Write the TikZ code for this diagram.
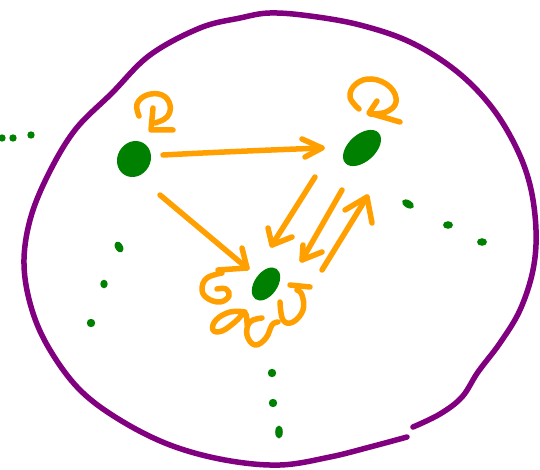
\documentclass[tikz,border=0pt]{standalone}
\usetikzlibrary{shapes.geometric}
\definecolor{purp}{RGB}{128,0,128}
\definecolor{dgreen}{RGB}{0,128,0}
\definecolor{orng}{RGB}{255,160,0}
\tikzset{
  blob/.style={ellipse, fill=dgreen, inner sep=0pt},
  ink/.style={draw=orng, line width=5.5pt, line cap=round, line join=round},
  rim/.style={draw=purp, line width=5.5pt, line cap=round, line join=round},
  gdot/.style={fill=dgreen}
}
\begin{document}
\begin{tikzpicture}[x=1pt,y=-1pt]
\useasboundingbox (0,0) rectangle (540,470);
% boundary
\draw[rim] plot[smooth, tension=0.6] coordinates {
 (413,427) (440,414) (462,397) (478,372) (500,343) (520,310) (533,270) (536,230)
 (530,185) (515,145) (490,105) (455,70) (410,42) (360,25) (310,16) (270,13)
 (240,18) (200,28) (150,55) (112,93) (75,130) (48,175) (30,220) (24,265)
 (32,310) (50,350) (80,390) (120,420) (170,445) (225,460) (280,465) (330,457)
 (370,447) (407,437)};
% nodes
\node[blob, minimum width=37pt, minimum height=33pt, rotate=60] (A) at (134,159) {};
\node[blob, minimum width=45pt, minimum height=27pt, rotate=42] (B) at (362,148) {};
\node[blob, minimum width=37pt, minimum height=23pt, rotate=55] (C) at (266,284) {};
% connector end points
\coordinate (ab1) at (163,155); \coordinate (ab2) at (322,148);
\coordinate (ac1) at (160,195); \coordinate (ac2) at (247,268);
\coordinate (bc1) at (315,177); \coordinate (bc2) at (272,245);
\coordinate (bd1) at (342,190); \coordinate (bd2) at (302,260);
\coordinate (cb1) at (322,270); \coordinate (cb2) at (367,197);
% A -> B
\draw[ink] (ab1) .. controls (220,152) and (270,150) .. (ab2);
\draw[ink] (302,139) -- (ab2) -- (305,157);
% A -> C
\draw[ink] (ac1) -- (ac2);
\draw[ink] (242,248) -- (ac2) -- (218,270);
% B -> C
\draw[ink] (bc1) -- (bc2);
\draw[ink] (268,228) -- (bc2) -- (292,237);
\draw[ink] (bd1) -- (bd2);
\draw[ink] (303,245) -- (bd2) -- (322,252);
% C -> B
\draw[ink] (cb1) -- (cb2);
\draw[ink] (345,210) -- (cb2) -- (372,223);
% self loop A
\draw[ink] plot[smooth, tension=0.7] coordinates {(139,116) (137,104) (147,95) (162,95) (170,105) (167,117) (155,123)};
\draw[ink] (153,108) -- (151,130) -- (173,130);
% self loop B
\draw[ink] plot[smooth, tension=0.7] coordinates {(359,109) (350,97) (356,84) (372,79) (390,87) (396,102) (386,112) (370,114)};
\draw[ink] (377,101) -- (369,113) -- (400,122);
% loops at C
\draw[ink] plot[smooth, tension=0.7] coordinates {(222,273) (207,278) (202,289) (207,298) (220,302) (229,296) (226,289) (217,289)};
\draw[ink] plot[smooth, tension=0.7] coordinates {(245,312) (230,312) (216,320) (213,330) (222,331) (235,322) (245,313) (247,325)};
\draw[ink] plot[smooth, tension=0.7] coordinates {(262,318) (250,322) (247,335) (255,345) (266,338) (272,325) (278,322)};
\draw[ink] plot[smooth, tension=0.7] coordinates {(280,302) (283,320) (293,322) (303,310) (302,295) (297,290)};
\draw[ink] (290,285) -- (310,287);
% dotted continuations
\fill[gdot] (2,138) circle[radius=3.7pt];
\fill[gdot] (13,138) circle[radius=3.7pt];
\fill[gdot] (31,135) circle[radius=3.7pt];
\fill[gdot, rotate around={-60:(119,247)}] (119,247) ellipse[x radius=6pt, y radius=3.8pt];
\fill[gdot] (104,284) ellipse[x radius=3.7pt, y radius=4.3pt];
\fill[gdot] (91,323) circle[radius=4.2pt];
\fill[gdot, rotate around={-30:(408,204)}] (408,204) ellipse[x radius=6.5pt, y radius=3.8pt];
\fill[gdot] (448,225) ellipse[x radius=5pt, y radius=3.8pt];
\fill[gdot] (482,242) ellipse[x radius=5pt, y radius=3.8pt];
\fill[gdot] (272,373) circle[radius=4.2pt];
\fill[gdot] (273,403) circle[radius=4.2pt];
\fill[gdot] (279,432) ellipse[x radius=3.8pt, y radius=6.5pt];
\end{tikzpicture}
\end{document}
